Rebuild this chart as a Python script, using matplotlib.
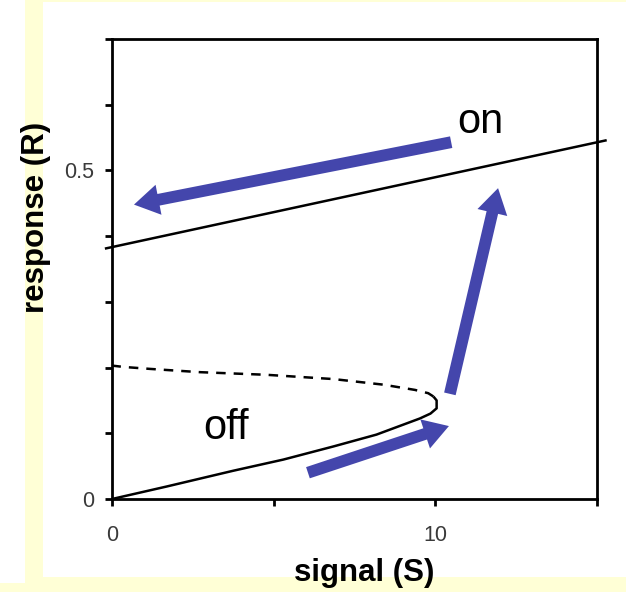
import matplotlib
matplotlib.use('Agg')
import matplotlib.pyplot as plt
from matplotlib.patches import Rectangle, FancyArrowPatch, ArrowStyle

# ---- data ----
on_S = [-0.22, 15.3]
on_R = [0.381, 0.546]

off_S = [0, 1.69, 3.75, 5.30, 6.85, 8.18, 9.52, 9.85, 10.04, 10.04, 9.94]
off_R = [0, 0.019, 0.043, 0.060, 0.080, 0.098, 0.1225, 0.130, 0.138, 0.150, 0.156]

unstable_S = [9.94, 9.78, 9.37, 8.39, 6.85, 4.78, 2.72, 1.17, 0.35, 0]
unstable_R = [0.156, 0.161, 0.166, 0.174, 0.1825, 0.189, 0.193, 0.198, 0.201, 0.203]

arrow_tail_S = [6.06, 10.45, 10.49]
arrow_tail_R = [0.040, 0.160, 0.543]
arrow_head_S = [10.42, 11.94, 0.68]
arrow_head_R = [0.111, 0.473, 0.448]

x_ticks = [0, 5, 10, 15]
x_tick_labels = ['0', '', '10', '']
y_ticks = [0, 0.1, 0.2, 0.3, 0.4, 0.5, 0.6, 0.7]
y_tick_labels = ['0', '', '', '', '', '0.5', '', '']

# ---- figure ----
W, H = 626, 592
plt.rcParams['font.family'] = ['Liberation Sans', 'DejaVu Sans']
fig = plt.figure(figsize=(W / 100, H / 100), dpi=100, facecolor='white')

yellow = '#FFFFD6'
def px_rect(x0, y0, x1, y1, color, z):
    fig.add_artist(Rectangle((x0 / W, 1 - y1 / H), (x1 - x0) / W, (y1 - y0) / H,
                             transform=fig.transFigure, facecolor=color,
                             edgecolor='none', zorder=z))

px_rect(25, 0, 626, 592, yellow, -10)
px_rect(0, 583, 25, 592, yellow, -10)
px_rect(43, 2, 626, 577, 'white', -9)

ax = fig.add_axes([112 / W, 1 - 499 / H, (597 - 112) / W, (499 - 39) / H])
ax.set_xlim(0, 15)
ax.set_ylim(0, 0.7)
ax.patch.set_alpha(0)

for s in ax.spines.values():
    s.set_linewidth(2.0)
    s.set_color('black')

ax.set_xticks(x_ticks)
ax.set_xticklabels(x_tick_labels)
ax.set_yticks(y_ticks)
ax.set_yticklabels(y_tick_labels)
ax.tick_params(axis='both', direction='out', length=5, width=2, labelsize=15.5,
               labelcolor='#3a3a3a')
ax.tick_params(axis='x', pad=14)
ax.tick_params(axis='y', pad=8)

line_kw = dict(color='black', lw=1.8, solid_capstyle='butt')
ax.plot(on_S, on_R, clip_on=False, **line_kw)
ax.plot(off_S, off_R, **line_kw)
ax.plot(unstable_S, unstable_R, color='black', lw=1.8, linestyle=(0, (3.8, 3.2)))

blue = '#4446AC'
style = ArrowStyle('simple', head_length=18, head_width=22, tail_width=8.5)
for ts, tr, hs, hr in zip(arrow_tail_S, arrow_tail_R, arrow_head_S, arrow_head_R):
    ax.add_patch(FancyArrowPatch((ts, tr), (hs, hr), arrowstyle=style,
                                 mutation_scale=1, color=blue, lw=0,
                                 shrinkA=0, shrinkB=0, clip_on=False, zorder=5))

ax.text(10.67, 0.557, 'on', fontsize=30, ha='left', va='baseline')
ax.text(2.81, 0.0915, 'off', fontsize=30, ha='left', va='baseline')

fig.text(364 / W, 1 - 573 / H, 'signal (S)', fontsize=22.5, fontweight='bold',
         ha='center', va='center')
fig.text(36 / W, 1 - 217 / H, 'response (R)', fontsize=22.5, fontweight='bold',
         ha='center', va='center', rotation=90)

fig.savefig('out.png', dpi=100, facecolor='white')
